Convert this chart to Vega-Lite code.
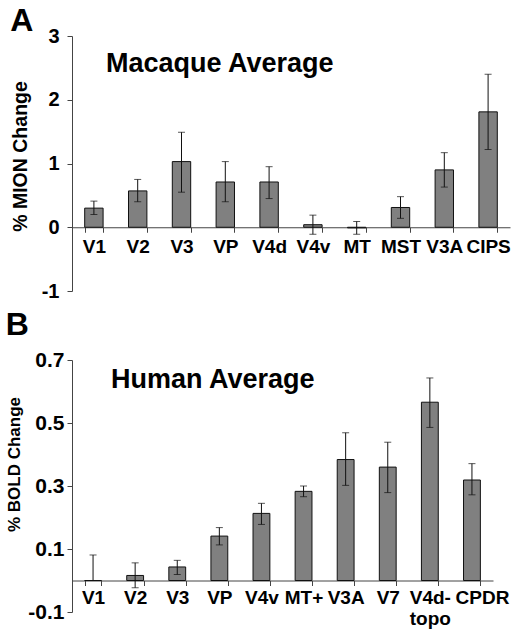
{
  "$schema": "https://vega.github.io/schema/vega-lite/v6.json",
  "padding": {"left": 5, "top": 5, "right": 0, "bottom": 0},
  "spacing": 8,
  "config": {
    "font": "Liberation Sans",
    "view": {"stroke": null},
    "axis": {"labelFont": "Liberation Sans", "labelFontWeight": "bold", "labelColor": "black", "titleFont": "Liberation Sans", "titleFontWeight": "bold", "titleColor": "black", "domainColor": "#444", "tickColor": "#444", "grid": false},
    "title": {"font": "Liberation Sans", "fontWeight": "bold", "color": "black"}
  },
  "datasets": {
    "macaque": [
      {"area": "V1", "value": 0.30, "lo": 0.20, "hi": 0.41},
      {"area": "V2", "value": 0.57, "lo": 0.40, "hi": 0.75},
      {"area": "V3", "value": 1.03, "lo": 0.55, "hi": 1.49},
      {"area": "VP", "value": 0.71, "lo": 0.40, "hi": 1.03},
      {"area": "V4d", "value": 0.71, "lo": 0.45, "hi": 0.95},
      {"area": "V4v", "value": 0.04, "lo": -0.11, "hi": 0.19},
      {"area": "MT", "value": -0.01, "lo": -0.11, "hi": 0.09},
      {"area": "MST", "value": 0.31, "lo": 0.14, "hi": 0.48},
      {"area": "V3A", "value": 0.90, "lo": 0.63, "hi": 1.17},
      {"area": "CIPS", "value": 1.81, "lo": 1.22, "hi": 2.40}
    ],
    "human": [
      {"area": "V1", "value": 0.0, "lo": 0.0, "hi": 0.081},
      {"area": "V2", "value": 0.016, "lo": -0.023, "hi": 0.056},
      {"area": "V3", "value": 0.043, "lo": 0.019, "hi": 0.064},
      {"area": "VP", "value": 0.141, "lo": 0.113, "hi": 0.168},
      {"area": "V4v", "value": 0.213, "lo": 0.178, "hi": 0.245},
      {"area": "MT+", "value": 0.283, "lo": 0.266, "hi": 0.300},
      {"area": "V3A", "value": 0.384, "lo": 0.302, "hi": 0.469},
      {"area": "V7", "value": 0.360, "lo": 0.279, "hi": 0.439},
      {"area": "V4d-topo", "value": 0.566, "lo": 0.486, "hi": 0.643},
      {"area": "CPDR", "value": 0.319, "lo": 0.272, "hi": 0.371}
    ]
  },
  "vconcat": [
    {
      "title": {"text": "A", "fontSize": 32, "anchor": "start", "frame": "bounds", "offset": -12},
      "vconcat": [
        {
          "width": 438,
          "height": 255,
          "data": {"name": "macaque"},
          "encoding": {
            "x": {
              "field": "area", "type": "nominal", "sort": null,
              "scale": {"paddingInner": 0.58, "paddingOuter": 0.29},
              "axis": {"title": null, "orient": "bottom", "offset": -63.75, "tickBand": "extent", "tickSize": 5, "labelAngle": 0, "labelFontSize": 19, "labelPadding": 5}
            }
          },
          "layer": [
            {
              "mark": {"type": "bar", "color": "#808080", "stroke": "#111", "strokeWidth": 1},
              "encoding": {
                "y": {
                  "field": "value", "type": "quantitative", "title": "% MION Change",
                  "scale": {"domain": [-1, 3], "nice": false},
                  "axis": {"values": [-1, 0, 1, 2, 3], "tickSize": 5, "labelPadding": 8, "labelFontSize": 20, "titleFontSize": 19.5, "titlePadding": 11, "titleY": 120, "labelExpr": "datum.value < 0 ? '-' + format(-datum.value, 'd') : format(datum.value, 'd')"}
                }
              }
            },
            {
              "mark": {"type": "errorbar", "color": "#111", "ticks": {"size": 7}},
              "encoding": {
                "y": {"field": "lo", "type": "quantitative", "title": "% MION Change"},
                "y2": {"field": "hi"}
              }
            },
            {
              "data": {"values": [{"label": "Macaque Average"}]},
              "mark": {"type": "text", "align": "left", "baseline": "alphabetic", "fontSize": 27, "fontWeight": "bold", "color": "black", "dx": 12},
              "encoding": {
                "x": {"datum": "V1"},
                "y": {"datum": 2.43},
                "text": {"field": "label"}
              }
            }
          ]
        }
      ]
    },
    {
      "title": {"text": "B", "fontSize": 32, "anchor": "start", "frame": "bounds", "offset": 7},
      "vconcat": [
        {
          "width": 421,
          "height": 252,
          "data": {"name": "human"},
          "encoding": {
            "x": {
              "field": "area", "type": "nominal", "sort": null,
              "scale": {"paddingInner": 0.6, "paddingOuter": 0.3},
              "axis": {"title": null, "orient": "bottom", "offset": -31.5, "tickBand": "extent", "tickSize": 5, "labelAngle": 0, "labelFontSize": 19, "labelPadding": 3, "labelLineHeight": 21, "labelOffset": {"condition": {"test": "datum.value == 'CPDR'", "value": 10}, "value": 0}, "labelExpr": "datum.value == 'V4d-topo' ? ['V4d-', 'topo'] : datum.value"}
            }
          },
          "layer": [
            {
              "mark": {"type": "bar", "color": "#808080", "stroke": "#111", "strokeWidth": 1},
              "encoding": {
                "y": {
                  "field": "value", "type": "quantitative", "title": "% BOLD Change",
                  "scale": {"domain": [-0.1, 0.7], "nice": false},
                  "axis": {"values": [-0.1, 0.1, 0.3, 0.5, 0.7], "tickSize": 5, "labelPadding": 3, "labelFontSize": 21, "titleFontSize": 17, "titlePadding": 4, "titleY": 104, "labelExpr": "datum.value < 0 ? '-' + format(-datum.value, '.1f') : format(datum.value, '.1f')"}
                }
              }
            },
            {
              "mark": {"type": "errorbar", "color": "#111", "ticks": {"size": 7}},
              "encoding": {
                "y": {"field": "lo", "type": "quantitative", "title": "% BOLD Change"},
                "y2": {"field": "hi"}
              }
            },
            {
              "data": {"values": [{"label": "Human Average"}]},
              "mark": {"type": "text", "align": "left", "baseline": "alphabetic", "fontSize": 27, "fontWeight": "bold", "color": "black", "dx": 18},
              "encoding": {
                "x": {"datum": "V1"},
                "y": {"datum": 0.612},
                "text": {"field": "label"}
              }
            }
          ]
        }
      ]
    }
  ]
}
